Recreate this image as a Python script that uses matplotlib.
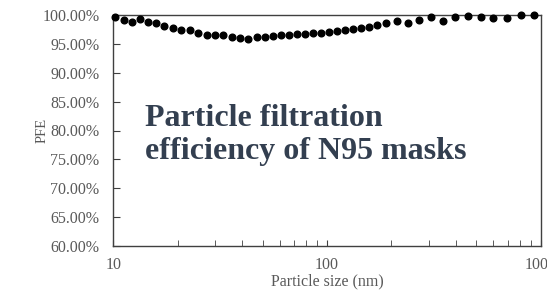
import numpy as np
import matplotlib.pyplot as plt
from matplotlib.ticker import FuncFormatter, LogLocator, NullFormatter

# particle size (nm) and filtration efficiency (%)
size_nm = [10.18, 11.22, 12.23, 13.33, 14.54, 15.84, 17.27, 19.03, 20.85, 22.86,
           24.91, 27.31, 29.92, 32.62, 35.74, 39.16, 42.68, 46.79, 51.28, 55.88,
           60.91, 66.40, 72.37, 78.89, 86.00, 93.74, 102.2, 111.4, 121.4, 132.3,
           144.2, 157.2, 171.4, 188.8, 211.5, 239.3, 269.5, 306.7, 349.0, 397.2,
           454.6, 522.9, 598.2, 695.6, 808.8, 930.0]
pfe = [99.60, 99.13, 98.84, 99.26, 98.74, 98.56, 98.10, 97.80, 97.40, 97.40,
       96.83, 96.54, 96.54, 96.54, 96.14, 95.97, 95.80, 96.14, 96.25, 96.37,
       96.49, 96.54, 96.63, 96.71, 96.83, 96.94, 97.11, 97.28, 97.40, 97.53,
       97.70, 97.98, 98.27, 98.70, 98.88, 98.70, 99.22, 99.57, 98.91, 99.60,
       99.88, 99.57, 99.52, 99.43, 99.95, 99.95]

y_ticks = [60, 65, 70, 75, 80, 85, 90, 95, 100]
x_ticks = [10, 100, 1000]

plt.rcParams['font.family'] = ['Liberation Serif', 'DejaVu Serif']
grey = '#595959'
spine_col = '#404040'

fig = plt.figure(figsize=(5.47, 2.91), dpi=100)
ax = fig.add_axes([113.3 / 547, 1 - 246 / 291, 427.4 / 547, 231 / 291])

ax.plot(size_nm, pfe, 'o', color='black', ms=4.8, clip_on=False, zorder=5)

ax.set_xscale('log')
ax.set_xlim(10, 1000)
ax.set_ylim(60, 100)
ax.set_xticks(x_ticks)
ax.set_xticklabels([str(v) for v in x_ticks])
ax.xaxis.set_minor_locator(LogLocator(base=10, subs=np.arange(2, 10)))
ax.xaxis.set_minor_formatter(NullFormatter())
ax.set_yticks(y_ticks)
ax.yaxis.set_major_formatter(FuncFormatter(lambda v, p: f'{v:.2f}%'))

for s in ax.spines.values():
    s.set_color(spine_col)
    s.set_linewidth(1.0)

ax.tick_params(axis='both', which='both', direction='in', color=spine_col,
               labelcolor=grey, labelsize=11.5)
ax.tick_params(axis='y', which='major', length=5, pad=10, right=False)
ax.tick_params(axis='x', which='major', length=4, pad=8, top=False)
ax.tick_params(axis='x', which='minor', length=4, top=False)

ax.set_xlabel('Particle size (nm)', color=grey, fontsize=11.5, labelpad=0)
ax.set_ylabel('PFE', color=grey, fontsize=10.5)
ax.yaxis.set_label_coords(-0.152, 0.5)

fig.text(145 / 547, 1 - 104 / 291, 'Particle filtration\nefficiency of N95 masks',
         fontsize=23, fontweight='bold', color='#333f50', va='top', ha='left',
         linespacing=1.2)

fig.savefig('out.png', dpi=100)
